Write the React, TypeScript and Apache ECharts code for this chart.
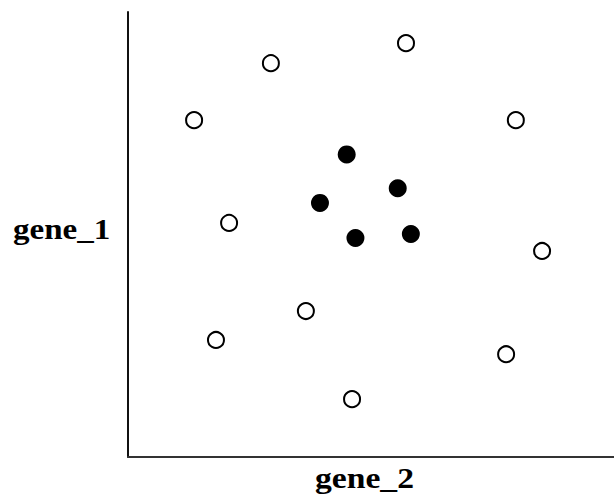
import React, { useEffect, useRef } from "react";
import * as echarts from "echarts";

// Open (hollow) points: [gene_2, gene_1]
const openPoints: number[][] = [
  [57.2, 93.0],
  [29.4, 88.5],
  [13.6, 75.7],
  [79.8, 75.7],
  [20.8, 52.6],
  [85.2, 46.3],
  [36.6, 32.8],
  [18.1, 26.3],
  [77.8, 23.1],
  [46.1, 13.0],
];

// Filled points: [gene_2, gene_1]
const filledPoints: number[][] = [
  [45.0, 68.0],
  [55.5, 60.4],
  [39.5, 57.1],
  [46.8, 49.2],
  [58.2, 50.1],
];

const xName = "gene_2";
const yName = "gene_1";

const labelFont = "bold 29px 'Liberation Serif', 'DejaVu Serif', serif";

export default function App() {
  const ref = useRef<HTMLDivElement>(null);
  useEffect(() => {
    document.body.style.margin = "0";
    const chart = echarts.init(ref.current!, null, { renderer: "svg" });
    chart.setOption({
      animation: false,
      backgroundColor: "#ffffff",
      grid: { left: 128, top: 12, width: 486, bottom: 39, containLabel: false },
      xAxis: {
        type: "value",
        min: 0,
        max: 100,
        axisLine: { show: true, onZero: false, lineStyle: { color: "#333", width: 2 } },
        axisTick: { show: false },
        axisLabel: { show: false },
        splitLine: { show: false },
      },
      yAxis: {
        type: "value",
        min: 0,
        max: 100,
        axisLine: { show: true, onZero: false, lineStyle: { color: "#111", width: 2 } },
        axisTick: { show: false },
        axisLabel: { show: false },
        splitLine: { show: false },
      },
      graphic: [
        {
          type: "text",
          x: 13,
          y: 215,
          scaleX: 1.14,
          style: {
            text: yName,
            x: 0,
            y: 0,
            verticalAlign: "top",
            font: labelFont,
            fill: "#000",
          },
        },
        {
          type: "text",
          x: 315,
          y: 464,
          scaleX: 1.16,
          style: {
            text: xName,
            x: 0,
            y: 0,
            verticalAlign: "top",
            font: labelFont,
            fill: "#000",
          },
        },
      ],
      series: [
        {
          type: "scatter",
          data: openPoints,
          symbol: "circle",
          symbolSize: 16,
          itemStyle: { color: "#ffffff", borderColor: "#000", borderWidth: 2, opacity: 1 },
        },
        {
          type: "scatter",
          data: filledPoints,
          symbol: "circle",
          symbolSize: 18,
          itemStyle: { color: "#000", opacity: 1 },
        },
      ],
    });
    return () => chart.dispose();
  }, []);
  return <div ref={ref} style={{ width: 614, height: 496 }} />;
}
